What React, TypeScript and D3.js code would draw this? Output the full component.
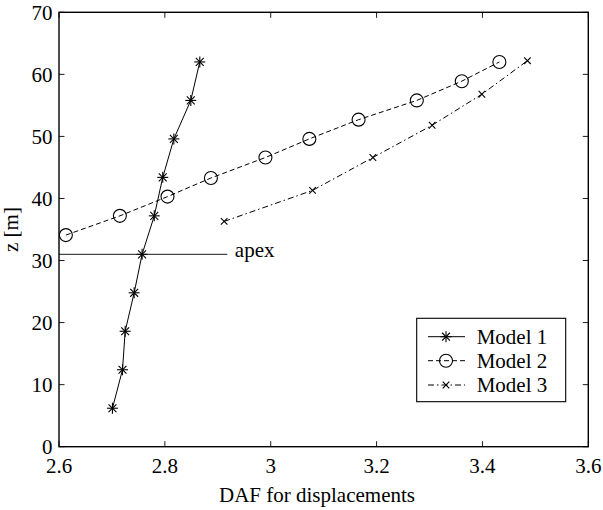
import React from "react";
import * as d3 from "d3";

// Heights along the tower [m] and dynamic amplification factors
const zModel1 = [62, 55.8, 49.6, 43.4, 37.2, 31, 24.8, 18.6, 12.4, 6.2];
const dafModel1 = [2.866, 2.849, 2.817, 2.796, 2.780, 2.757, 2.742, 2.725, 2.720, 2.701];

const zModel2 = [34.1, 37.2, 40.3, 43.3, 46.6, 49.6, 52.7, 55.8, 58.9, 62];
const dafModel2 = [2.613, 2.715, 2.805, 2.887, 2.990, 3.073, 3.166, 3.276, 3.361, 3.432];

const zModel3 = [36.3, 41.3, 46.6, 51.8, 56.8, 62.2];
const dafModel3 = [2.912, 3.079, 3.193, 3.305, 3.399, 3.485];

const xTicks = [2.6, 2.8, 3, 3.2, 3.4, 3.6];
const yTicks = [0, 10, 20, 30, 40, 50, 60, 70];

const apexZ = 31;
const apexEnd = 2.918;

const seriesNames = ["Model 1", "Model 2", "Model 3"];

const W = 603;
const H = 510;
const left = 59;
const right = 588.3;
const top = 12.3;
const bottom = 446.7;

const FS = 21;

function Marker({ kind, cx, cy }: { kind: string; cx: number; cy: number }) {
  if (kind === "star") {
    const r = 5.5;
    const d = r * 0.72;
    return (
      <g stroke="#000" strokeWidth={1.1}>
        <line x1={cx - r} y1={cy} x2={cx + r} y2={cy} />
        <line x1={cx} y1={cy - r} x2={cx} y2={cy + r} />
        <line x1={cx - d} y1={cy - d} x2={cx + d} y2={cy + d} />
        <line x1={cx - d} y1={cy + d} x2={cx + d} y2={cy - d} />
      </g>
    );
  }
  if (kind === "circle") {
    return <circle cx={cx} cy={cy} r={6.5} fill="none" stroke="#000" strokeWidth={1.1} />;
  }
  const d = 3.3;
  return (
    <g stroke="#000" strokeWidth={1.1}>
      <line x1={cx - d} y1={cy - d} x2={cx + d} y2={cy + d} />
      <line x1={cx - d} y1={cy + d} x2={cx + d} y2={cy - d} />
    </g>
  );
}

const txt: React.CSSProperties = { fontFamily: "Liberation Serif", fontSize: FS };

export default function App() {
  const x = d3.scaleLinear().domain([2.6, 3.6]).range([left, right]);
  const y = d3.scaleLinear().domain([0, 70]).range([bottom, top]);

  const line = d3
    .line<[number, number]>()
    .x((d) => x(d[0]))
    .y((d) => y(d[1]));

  const series = [
    { name: seriesNames[0], xs: dafModel1, zs: zModel1, marker: "star", dash: "none" },
    { name: seriesNames[1], xs: dafModel2, zs: zModel2, marker: "circle", dash: "5 3" },
    { name: seriesNames[2], xs: dafModel3, zs: zModel3, marker: "x", dash: "6 3 1.5 3" },
  ];

  const tickLen = 5.5;
  const legX = 416.7;
  const legY = 318.3;
  const legW = 149;
  const legH = 83.4;
  const rowYs = [336.7, 360.7, 385];

  return (
    <svg
      width={W}
      height={H}
      style={{ position: "absolute", left: 0, top: 0, background: "#fff" }}
    >
      <rect x={0} y={0} width={W} height={H} fill="#fff" />

      {/* series lines */}
      {series.map((s) => (
        <path
          key={s.name}
          d={line(s.xs.map((v, i) => [v, s.zs[i]] as [number, number])) || ""}
          fill="none"
          stroke="#000"
          strokeWidth={1}
          strokeDasharray={s.dash === "none" ? undefined : s.dash}
        />
      ))}

      {/* apex level */}
      <line x1={x(2.6)} x2={x(apexEnd)} y1={y(apexZ)} y2={y(apexZ)} stroke="#000" strokeWidth={0.9} />
      <text x={x(apexEnd) + 7.5} y={y(apexZ) + 3} style={txt}>
        apex
      </text>

      {/* markers */}
      {series.map((s) =>
        s.xs.map((v, i) => <Marker key={s.name + i} kind={s.marker} cx={x(v)} cy={y(s.zs[i])} />)
      )}

      {/* frame */}
      <rect
        x={left}
        y={top}
        width={right - left}
        height={bottom - top}
        fill="none"
        stroke="#000"
        strokeWidth={1.4}
      />

      {/* x ticks */}
      {xTicks.map((t) => (
        <g key={"x" + t}>
          <line x1={x(t)} x2={x(t)} y1={bottom} y2={bottom - tickLen} stroke="#000" strokeWidth={0.9} />
          <line x1={x(t)} x2={x(t)} y1={top} y2={top + tickLen} stroke="#000" strokeWidth={0.9} />
          <text x={x(t)} y={472.5} style={txt} textAnchor="middle">
            {d3.format("~g")(t)}
          </text>
        </g>
      ))}

      {/* y ticks */}
      {yTicks.map((t) => (
        <g key={"y" + t}>
          <line x1={left} x2={left + tickLen} y1={y(t)} y2={y(t)} stroke="#000" strokeWidth={0.9} />
          <line x1={right} x2={right - tickLen} y1={y(t)} y2={y(t)} stroke="#000" strokeWidth={0.9} />
          <text x={left - 6.5} y={y(t) + 7.5} style={txt} textAnchor="end">
            {t}
          </text>
        </g>
      ))}

      {/* axis titles */}
      <text x={317} y={502} style={txt} textAnchor="middle">
        DAF for displacements
      </text>
      <text
        transform={`translate(18, ${(top + bottom) / 2}) rotate(-90)`}
        style={txt}
        textAnchor="middle"
      >
        z [m]
      </text>

      {/* legend */}
      <rect x={legX} y={legY} width={legW} height={legH} fill="#fff" stroke="#000" strokeWidth={1.1} />
      {series.map((s, i) => (
        <g key={"leg" + s.name}>
          <line
            x1={428}
            x2={465}
            y1={rowYs[i]}
            y2={rowYs[i]}
            stroke="#000"
            strokeWidth={1}
            strokeDasharray={s.dash === "none" ? undefined : s.dash}
          />
          <Marker kind={s.marker} cx={446} cy={rowYs[i]} />
          <text x={476.7} y={rowYs[i] + 7} style={txt}>
            {s.name}
          </text>
        </g>
      ))}
    </svg>
  );
}
